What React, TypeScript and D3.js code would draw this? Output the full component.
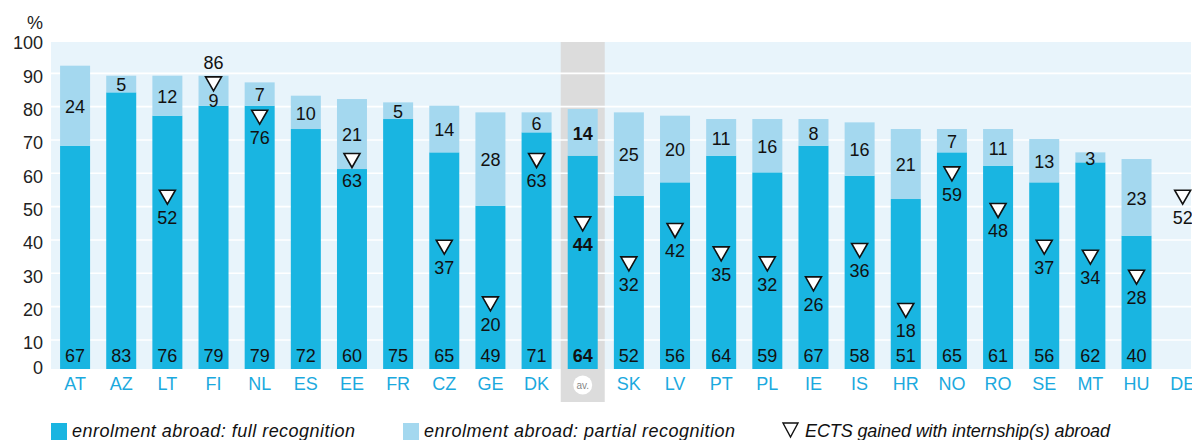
import React from "react";
import * as d3 from "d3";

const categories = ["AT","AZ","LT","FI","NL","ES","EE","FR","CZ","GE","DK","av.","SK","LV","PT","PL","IE","IS","HR","NO","RO","SE","MT","HU","DE"];
const fullRecognition: (number | null)[] = [67,83,76,79,79,72,60,75,65,49,71,64,52,56,64,59,67,58,51,65,61,56,62,40,null];
const partialRecognition: (number | null)[] = [24,5,12,9,7,10,21,5,14,28,6,14,25,20,11,16,8,16,21,7,11,13,3,23,null];
const ectsInternship: (number | null)[] = [null,null,52,86,76,null,63,null,37,20,63,44,32,42,35,32,26,36,18,59,48,37,34,28,52];
const yTicks = [0,10,20,30,40,50,60,70,80,90,100];
const averageKey = "av.";
const legendLabels = ["enrolment abroad: full recognition", "enrolment abroad: partial recognition", "ECTS gained with internship(s) abroad"];

const W = 1192, H = 440;
const FULL = "#19b5e1";
const PART = "#a4d8ef";
const LABEL = "#1ba9de";
const BG = "#e8f4fb";
const GREY = "#dcdcdc";
const FONT = "'Liberation Sans', Arial, sans-serif";

export default function App() {
  const plotLeft = 52, plotTop = 42, plotBottom = 369;
  const gridOffset = 4.3; // reference grid sits slightly below the bar baseline scale
  const step = 46.15;
  const x = d3.scaleBand<string>().domain(categories)
    .range([plotLeft, plotLeft + categories.length * step])
    .paddingInner(0.35).paddingOuter(0.175);
  const y = d3.scaleLinear().domain([0, 100]).range([plotBottom, plotBottom - 333.3]);
  const bw = x.bandwidth();
  const tri = (cx: number, cy: number) => {
    const p = d3.path();
    p.moveTo(cx - 8, cy - 7); p.lineTo(cx + 8, cy - 7); p.lineTo(cx, cy + 7); p.closePath();
    return p.toString();
  };
  const avX = (x(averageKey) ?? 0) + bw / 2;

  return (
    <svg width={W} height={H} style={{ position: "absolute", left: 0, top: 0, fontFamily: FONT }}>
      <rect x={plotLeft - 1} y={plotTop} width={W - plotLeft} height={plotBottom - plotTop} fill={BG} />
      <rect x={avX - 22} y={plotTop} width={44} height={402 - plotTop} fill={GREY} />
      {yTicks.filter(t => t > 0 && t < 100).map(t => (
        <line key={t} x1={plotLeft - 1} x2={W} y1={y(t) + gridOffset} y2={y(t) + gridOffset} stroke="#fff" strokeWidth={1.6} />
      ))}
      {yTicks.map(t => (
        <text key={t} x={43} y={Math.min(y(t) + gridOffset + 3, 368)} dy="0.35em" textAnchor="end" fontSize={18} fill="#222">{t}</text>
      ))}
      <text x={43} y={23} dy="0.35em" textAnchor="end" fontSize={18} fill="#222">%</text>

      {categories.map((c, i) => {
        const f = fullRecognition[i], p = partialRecognition[i];
        if (f == null) return null;
        const x0 = x(c) ?? 0;
        return (
          <g key={c}>
            <rect x={x0} y={y(f)} width={bw} height={y(0) - y(f)} fill={FULL} />
            {p != null && <rect x={x0} y={y(f + (p as number))} width={bw} height={y(f) - y(f + (p as number))} fill={PART} />}
          </g>
        );
      })}

      {categories.map((c, i) => {
        const f = fullRecognition[i], p = partialRecognition[i], e = ectsInternship[i];
        const cx = (x(c) ?? 0) + bw / 2;
        const bold = c === averageKey ? 700 : 400;
        const total = (f ?? 0) + (p ?? 0);
        const ectsAbove = e != null && f != null && e > total - 5;
        let partY = p != null && f != null ? (y(f) + y(total)) / 2 + 1 : 0;
        if (ectsAbove && e != null) partY = y(e) + 18;
        return (
          <g key={c} fontSize={18} fill="#111" textAnchor="middle" fontWeight={bold}>
            {f != null && <text x={cx} y={356} dy="0.35em">{f}</text>}
            {p != null && <text x={cx} y={partY} dy="0.35em">{p}</text>}
            {e != null && (
              <g>
                <path d={tri(cx, y(e) + 1.5)} fill="#fff" stroke="#111" strokeWidth={1.6} strokeLinejoin="miter" />
                <text x={cx} y={ectsAbove ? y(e) - 20 : y(e) + 22} dy="0.35em">{e}</text>
              </g>
            )}
          </g>
        );
      })}

      {categories.map(c => {
        const cx = (x(c) ?? 0) + bw / 2;
        if (c === averageKey) {
          return (
            <g key={c}>
              <circle cx={cx} cy={385} r={9.5} fill="#fff" />
              <text x={cx} y={385} dy="0.35em" textAnchor="middle" fontSize={10} fill="#888">{c}</text>
            </g>
          );
        }
        return <text key={c} x={cx} y={384} dy="0.35em" textAnchor="middle" fontSize={18} fill={LABEL}>{c}</text>;
      })}

      <rect x={51} y={423} width={16} height={17} fill={FULL} />
      <text x={72} y={437} fontSize={18} fontStyle="italic" fill="#111" textLength={283} lengthAdjust="spacing">{legendLabels[0]}</text>
      <rect x={403} y={423} width={16} height={17} fill={PART} />
      <text x={424} y={437} fontSize={18} fontStyle="italic" fill="#111" textLength={311} lengthAdjust="spacing">{legendLabels[1]}</text>
      <path d={(() => { const p = d3.path(); p.moveTo(783, 423); p.lineTo(798, 423); p.lineTo(790.5, 437); p.closePath(); return p.toString(); })()} fill="none" stroke="#111" strokeWidth={1.4} />
      <text x={805} y={437} fontSize={18} fontStyle="italic" fill="#111" textLength={305} lengthAdjust="spacing">{legendLabels[2]}</text>
    </svg>
  );
}
